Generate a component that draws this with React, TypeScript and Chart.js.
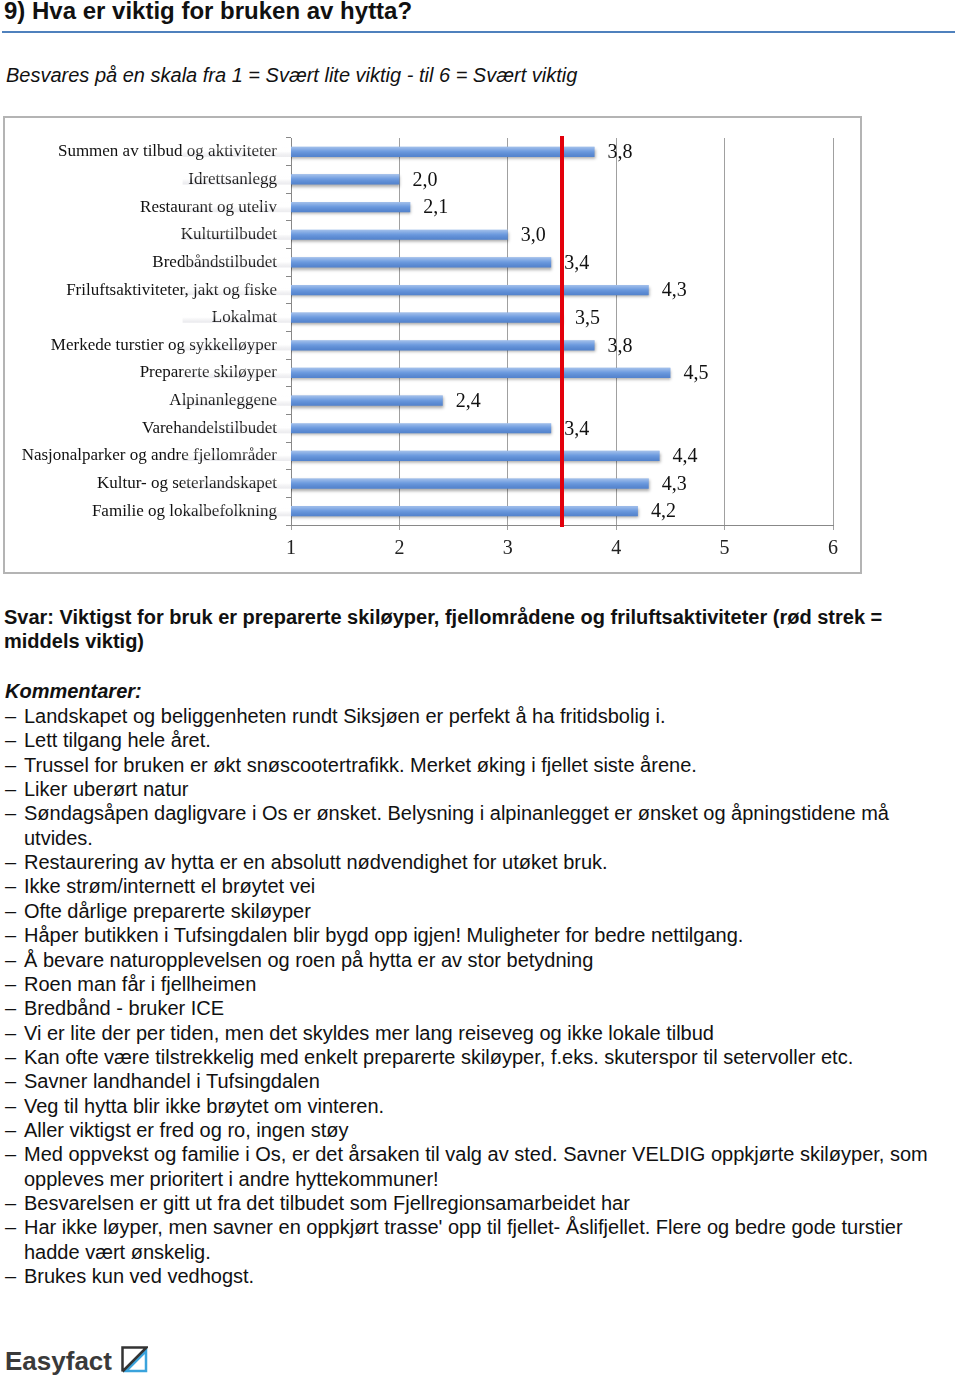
import React, { useEffect, useRef } from "react";
import { Chart, registerables } from "chart.js";

Chart.register(...registerables);

const categories = [
  "Summen av tilbud og aktiviteter",
  "Idrettsanlegg",
  "Restaurant og uteliv",
  "Kulturtilbudet",
  "Bredbåndstilbudet",
  "Friluftsaktiviteter, jakt og fiske",
  "Lokalmat",
  "Merkede turstier og sykkelløyper",
  "Preparerte skiløyper",
  "Alpinanleggene",
  "Varehandelstilbudet",
  "Nasjonalparker og andre fjellområder",
  "Kultur- og seterlandskapet",
  "Familie og lokalbefolkning",
];

const values = [3.8, 2.0, 2.1, 3.0, 3.4, 4.3, 3.5, 3.8, 4.5, 2.4, 3.4, 4.4, 4.3, 4.2];

const xTickValues = [1, 2, 3, 4, 5, 6];

const meanValue = 3.5;

const heading = "9) Hva er viktig for bruken av hytta?";
const subtitle = "Besvares på en skala fra 1 = Svært lite viktig - til 6 = Svært viktig";
const answerLines = [
  "Svar: Viktigst for bruk er preparerte skiløyper, fjellområdene og friluftsaktiviteter (rød strek =",
  "middels viktig)",
];
const commentsTitle = "Kommentarer:";
const comments: string[][] = [
  ["Landskapet og beliggenheten rundt Siksjøen er perfekt å ha fritidsbolig i."],
  ["Lett tilgang hele året."],
  ["Trussel for bruken er økt snøscootertrafikk. Merket øking i fjellet siste årene."],
  ["Liker uberørt natur"],
  ["Søndagsåpen dagligvare i Os er ønsket. Belysning i alpinanlegget er ønsket og åpningstidene må", "utvides."],
  ["Restaurering av hytta er en absolutt nødvendighet for utøket bruk."],
  ["Ikke strøm/internett el brøytet vei"],
  ["Ofte dårlige preparerte skiløyper"],
  ["Håper butikken i Tufsingdalen blir bygd opp igjen! Muligheter for bedre nettilgang."],
  ["Å bevare naturopplevelsen og roen på hytta er av stor betydning"],
  ["Roen man får i fjellheimen"],
  ["Bredbånd - bruker ICE"],
  ["Vi er lite der per tiden, men det skyldes mer lang reiseveg og ikke lokale tilbud"],
  ["Kan ofte være tilstrekkelig med enkelt preparerte skiløyper, f.eks. skuterspor til setervoller etc."],
  ["Savner landhandel i Tufsingdalen"],
  ["Veg til hytta blir ikke brøytet om vinteren."],
  ["Aller viktigst er fred og ro, ingen støy"],
  ["Med oppvekst og familie i Os, er det årsaken til valg av sted. Savner VELDIG oppkjørte skiløyper, som", "oppleves mer prioritert i andre hyttekommuner!"],
  ["Besvarelsen er gitt ut fra det tilbudet som Fjellregionsamarbeidet har"],
  ["Har ikke løyper, men savner en oppkjørt trasse' opp til fjellet- Åslifjellet. Flere og bedre gode turstier", "hadde vært ønskelig."],
  ["Brukes kun ved vedhogst."],
];

const SERIF = '"Liberation Serif", "DejaVu Serif", serif';
const SANS = '"Liberation Sans", Arial, sans-serif';

const fmt = (v: number) => v.toFixed(1).replace(".", ",");

const barDecorPlugin = {
  id: "barDecor",
  beforeDatasetsDraw(chart: any) {
    const ctx = chart.ctx;
    ctx.save();
    ctx.shadowColor = "rgba(0,0,0,0.35)";
    ctx.shadowBlur = 3;
    ctx.shadowOffsetX = 1;
    ctx.shadowOffsetY = 2;
  },
  afterDatasetsDraw(chart: any) {
    const ctx = chart.ctx;
    ctx.restore();
    const meta = chart.getDatasetMeta(0);
    const ds = chart.data.datasets[0];
    meta.data.forEach((bar: any) => {
      const p = bar.getProps(["x", "y", "base", "height"], true);
      const top = p.y - p.height / 2;
      const g = ctx.createLinearGradient(0, top, 0, top + p.height);
      g.addColorStop(0, "rgba(255,255,255,0.45)");
      g.addColorStop(0.45, "rgba(255,255,255,0.12)");
      g.addColorStop(1, "rgba(0,0,40,0.08)");
      ctx.save();
      ctx.fillStyle = g;
      ctx.fillRect(p.base, top, p.x - p.base, p.height);
      ctx.restore();
    });
    ctx.save();
    ctx.font = "20px " + SERIF;
    ctx.fillStyle = "#111";
    ctx.textAlign = "left";
    ctx.textBaseline = "middle";
    meta.data.forEach((bar: any, i: number) => {
      const p = bar.getProps(["x", "y"], true);
      ctx.fillText(fmt(ds.data[i]), p.x + 13, p.y + 1);
    });
    ctx.restore();
    const xs = chart.scales.x;
    const area = chart.chartArea;
    const mx = xs.getPixelForValue(meanValue);
    ctx.save();
    ctx.strokeStyle = "#e3000b";
    ctx.lineWidth = 4;
    ctx.beginPath();
    ctx.moveTo(mx, area.top - 2);
    ctx.lineTo(mx, area.bottom + 2);
    ctx.stroke();
    ctx.restore();
  },
};

function BarChart() {
  const ref = useRef<HTMLCanvasElement>(null);
  useEffect(() => {
    if (!ref.current) return;
    const chart = new Chart(ref.current, {
      type: "bar",
      data: {
        labels: categories,
        datasets: [
          {
            data: values,
            backgroundColor: "#5a8edb",
            borderWidth: 0,
            categoryPercentage: 1,
            barPercentage: 0.37,
          },
        ],
      },
      options: {
        indexAxis: "y",
        animation: false,
        responsive: false,
        maintainAspectRatio: false,
        layout: { padding: { top: 20, right: 27, left: 0, bottom: 0 } },
        plugins: {
          legend: { display: false },
          tooltip: { enabled: false },
          title: { display: false },
        },
        scales: {
          x: {
            type: "linear",
            min: xTickValues[0],
            max: xTickValues[xTickValues.length - 1],
            afterBuildTicks: (scale: any) => {
              scale.ticks = xTickValues.map((v) => ({ value: v }));
            },
            afterFit: (scale: any) => {
              scale.height = 47;
            },
            ticks: {
              font: { family: SERIF, size: 20 },
              color: "#222",
              padding: 7,
              callback: (v: any) => String(v),
            },
            grid: { color: "#a0a0a0", lineWidth: 1, tickLength: 5, drawTicks: true },
            border: { color: "#888", width: 1 },
          },
          y: {
            afterFit: (scale: any) => {
              scale.width = 286;
            },
            ticks: {
              font: { family: SERIF, size: 17 },
              color: "#111",
              padding: 9,
              autoSkip: false,
            },
            grid: { drawOnChartArea: false, color: "#888", tickLength: 5 },
            border: { color: "#888", width: 1 },
          },
        },
      },
      plugins: [barDecorPlugin],
    });
    return () => chart.destroy();
  }, []);
  return <canvas ref={ref} width={855} height={454} style={{ display: "block", width: 855, height: 454 }} />;
}

export default function App() {
  const lh = 24.35;
  let line = 0;
  const listTop = 704;
  return (
    <div style={{ position: "relative", width: 960, height: 1378, fontFamily: SANS, color: "#111", overflow: "hidden" }}>
      <style>{`html,body{margin:0;padding:0;background:#fff;}`}</style>
      <div style={{ position: "absolute", left: 4, top: -1, fontSize: 24, lineHeight: "24px", fontWeight: "bold", whiteSpace: "nowrap" }}>
        {heading}
      </div>
      <div style={{ position: "absolute", left: 2, top: 31, width: 953, height: 2, background: "#4f81bd" }} />
      <div style={{ position: "absolute", left: 6, top: 63, fontSize: 20, lineHeight: "24px", fontStyle: "italic", whiteSpace: "nowrap" }}>
        {subtitle}
      </div>
      <div style={{ position: "absolute", left: 3, top: 116, width: 855, height: 454, border: "2px solid #b4b4b4" }}>
        <BarChart />
      </div>
      {answerLines.map((t, i) => (
        <div key={"a" + i} style={{ position: "absolute", left: 4, top: 605 + i * 23.5, fontSize: 20, lineHeight: "24px", fontWeight: "bold", whiteSpace: "nowrap" }}>
          {t}
        </div>
      ))}
      <div style={{ position: "absolute", left: 5, top: 679, fontSize: 20, lineHeight: "24px", fontWeight: "bold", fontStyle: "italic", whiteSpace: "nowrap" }}>
        {commentsTitle}
      </div>
      {comments.map((item, i) => {
        const start = line;
        line += item.length;
        return (
          <div key={"c" + i}>
            <div style={{ position: "absolute", left: 5, top: listTop + start * lh, fontSize: 20, lineHeight: lh + "px", whiteSpace: "nowrap" }}>
              –
            </div>
            {item.map((t, j) => (
              <div key={j} style={{ position: "absolute", left: 24, top: listTop + (start + j) * lh, fontSize: 20, lineHeight: lh + "px", whiteSpace: "nowrap" }}>
                {t}
              </div>
            ))}
          </div>
        );
      })}
      <div style={{ position: "absolute", left: 5, top: 1346, fontSize: 26, lineHeight: "30px", fontWeight: "bold", color: "#3a3a3a", whiteSpace: "nowrap" }}>
        Easyfact
      </div>
      <svg style={{ position: "absolute", left: 121, top: 1346 }} width={27} height={27} viewBox="0 0 27 27">
        <polygon points="5,25 25,5 25,25" fill="none" stroke="#3aa3dc" strokeWidth={2.5} />
        <polyline points="1.5,25.5 1.5,1.5 25.5,1.5 1.5,25.5" fill="none" stroke="#333" strokeWidth={2.5} />
      </svg>
    </div>
  );
}
